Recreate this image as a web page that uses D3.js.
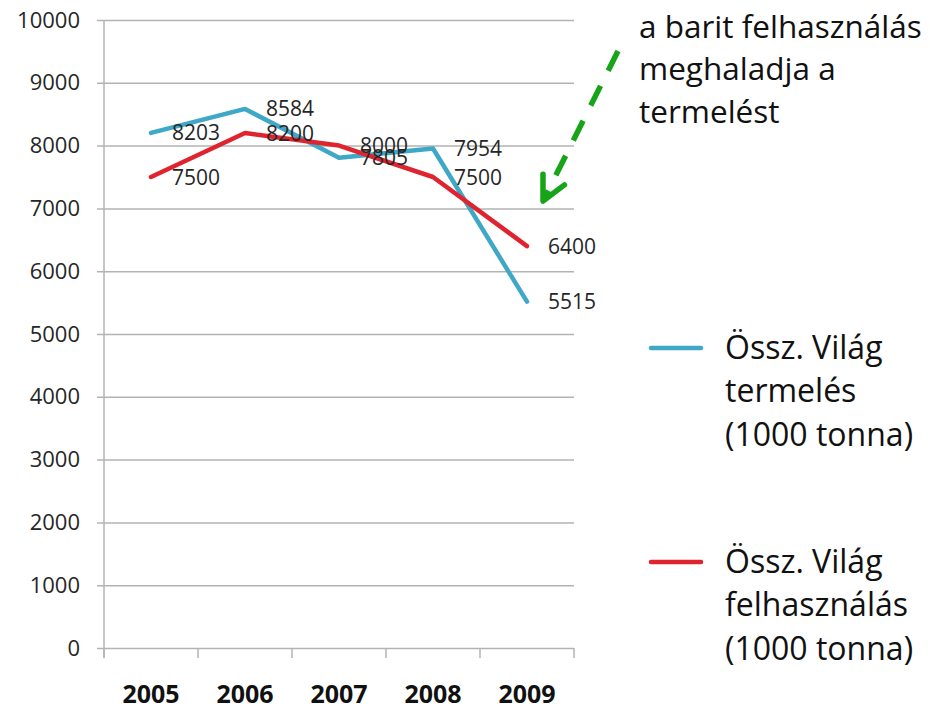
<!DOCTYPE html>
<html>
<head>
<meta charset="utf-8">
<script src="https://cdn.jsdelivr.net/npm/d3@7"></script>
<style>
  body { margin: 0; background: #fff; }
  text { font-family: "Open Sans", sans-serif; }
</style>
</head>
<body>
<div id="chart"></div>
<script>
// chart data
var years = ["2005", "2006", "2007", "2008", "2009"];
var termeles = [8203, 8584, 7805, 7954, 5515];
var felhasznalas = [7500, 8200, 8000, 7500, 6400];
var yTicks = [0, 1000, 2000, 3000, 4000, 5000, 6000, 7000, 8000, 9000, 10000];
var seriesNames = [
  ["Össz. Világ", "termelés", "(1000 tonna)"],
  ["Össz. Világ", "felhasználás", "(1000 tonna)"]
];
var noteLines = ["a barit felhasználás", "meghaladja a", "termelést"];

var svgWidth = 930;
var svgHeight = 711;

var margin = { top: 20, left: 104, right: 356, bottom: 63 };
var chartWidth = svgWidth - margin.left - margin.right;
var chartHeight = svgHeight - margin.top - margin.bottom;

var svg = d3.select("#chart")
  .append("svg")
  .attr("width", svgWidth)
  .attr("height", svgHeight);

var chartGroup = svg.append("g")
  .attr("transform", `translate(${margin.left}, ${margin.top})`);

var xScale = d3.scaleBand()
  .domain(years)
  .range([0, chartWidth]);

var yScale = d3.scaleLinear()
  .domain([0, 10000])
  .range([chartHeight, 0]);

// gridlines with the little tick stubs on the left
var leftAxis = d3.axisLeft(yScale)
  .tickValues(yTicks)
  .tickSize(-chartWidth)
  .tickPadding(24)
  .tickFormat(d3.format("d"));

var yAxisG = chartGroup.append("g").call(leftAxis);
yAxisG.select(".domain").remove();
yAxisG.selectAll("line")
  .attr("x1", -7)
  .attr("stroke", "#b3b3b3")
  .attr("stroke-width", 1.5);
yAxisG.selectAll("text")
  .attr("fill", "#262626")
  .style("font-size", "22px");

// vertical axis line
chartGroup.append("line")
  .attr("x1", 0).attr("x2", 0)
  .attr("y1", 0).attr("y2", chartHeight + 10)
  .attr("stroke", "#b3b3b3")
  .attr("stroke-width", 1.5);

// bottom axis ticks at band edges
var edges = years.map(d => xScale(d)).concat([chartWidth]);
chartGroup.selectAll(".xtick")
  .data(edges)
  .enter()
  .append("line")
  .attr("x1", d => d).attr("x2", d => d)
  .attr("y1", chartHeight).attr("y2", chartHeight + 10)
  .attr("stroke", "#b3b3b3")
  .attr("stroke-width", 1.5);

chartGroup.selectAll(".xlabel")
  .data(years)
  .enter()
  .append("text")
  .attr("x", d => xScale(d) + xScale.bandwidth() / 2)
  .attr("y", chartHeight + 55)
  .attr("text-anchor", "middle")
  .style("font-size", "25px")
  .style("font-weight", "bold")
  .attr("fill", "#111")
  .text(d => d);

var series = [
  { values: termeles, color: "#3ea8c6" },
  { values: felhasznalas, color: "#e0242f" }
];

var drawLine = d3.line()
  .x((d, i) => xScale(years[i]) + xScale.bandwidth() / 2)
  .y(d => yScale(d));

series.forEach(function(s) {
  chartGroup.append("path")
    .datum(s.values)
    .attr("d", drawLine)
    .attr("fill", "none")
    .attr("stroke", s.color)
    .attr("stroke-width", 4.5)
    .attr("stroke-linejoin", "round")
    .attr("stroke-linecap", "round");
});

// data labels to the right of each point
series.forEach(function(s) {
  chartGroup.selectAll(null)
    .data(s.values)
    .enter()
    .append("text")
    .attr("x", (d, i) => xScale(years[i]) + xScale.bandwidth() / 2 + 21)
    .attr("y", d => yScale(d))
    .attr("dy", "0.36em")
    .style("font-size", "21px")
    .attr("fill", "#262626")
    .text(d => d);
});

// legend
var legendY = [348, 562];
series.forEach(function(s, k) {
  var g = svg.append("g").attr("transform", `translate(651, ${legendY[k]})`);
  g.append("line")
    .attr("x1", 0).attr("x2", 50)
    .attr("stroke", s.color)
    .attr("stroke-width", 4.5)
    .attr("stroke-linecap", "round");
  g.selectAll("text")
    .data(seriesNames[k])
    .enter()
    .append("text")
    .attr("x", 74)
    .attr("y", (d, i) => i * 43.5)
    .attr("dy", "0.34em")
    .style("font-size", "32px")
    .attr("fill", "#111")
    .text(d => d);
});

// annotation
svg.append("g")
  .selectAll("text")
  .data(noteLines)
  .enter()
  .append("text")
  .attr("x", 639)
  .attr("y", (d, i) => 27 + i * 42.5)
  .attr("dy", "0.34em")
  .style("font-size", "31.5px")
  .attr("fill", "#111")
  .text(d => d);

// green dashed arrow
svg.append("defs").append("marker")
  .attr("id", "arrow")
  .attr("markerUnits", "userSpaceOnUse")
  .attr("viewBox", "-30 -16 34 32")
  .attr("refX", 0).attr("refY", 0)
  .attr("markerWidth", 34).attr("markerHeight", 32)
  .attr("orient", "auto")
  .append("path")
  .attr("d", "M-24,-12 L0,0 L-24,12")
  .attr("fill", "none")
  .attr("stroke", "#18a418")
  .attr("stroke-width", 5.5)
  .attr("stroke-linecap", "round")
  .attr("stroke-linejoin", "round");

svg.append("line")
  .attr("x1", 618).attr("y1", 51)
  .attr("x2", 543).attr("y2", 201)
  .attr("stroke", "#18a418")
  .attr("stroke-width", 5.5)
  .attr("stroke-dasharray", "22,17")
  .attr("marker-end", "url(#arrow)");
</script>
</body>
</html>
